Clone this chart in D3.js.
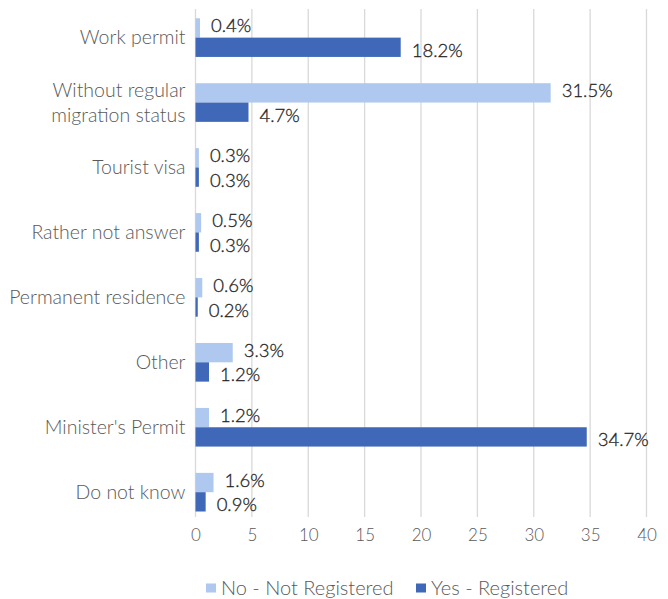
<!DOCTYPE html>
<html>
<head>
<meta charset="utf-8">
<script src="https://cdn.jsdelivr.net/npm/d3@7"></script>
<style>
  html, body { margin: 0; padding: 0; background: #fff; }
  svg { display: block; font-family: Lato, "Open Sans", sans-serif; }
</style>
</head>
<body>
<svg id="chart" width="668" height="599"></svg>
<script>
// Migration status by registration
const categories = [
  "Work permit",
  "Without regular|migration status",
  "Tourist visa",
  "Rather not answer",
  "Permanent residence",
  "Other",
  "Minister's Permit",
  "Do not know"
];
const notRegistered = [0.4, 31.5, 0.3, 0.5, 0.6, 3.3, 1.2, 1.6];
const registered    = [18.2, 4.7, 0.3, 0.3, 0.2, 1.2, 34.7, 0.9];
const seriesNames = ["No - Not Registered", "Yes - Registered"];
const seriesColors = ["#aec8ef", "#4068b8"];
const xTicks = [0, 5, 10, 15, 20, 25, 30, 35, 40];

const svg = d3.select("#chart");
const left = 195.5, right = 646.5;
const gridTop = 9, gridBottom = 517;

const x = d3.scaleLinear().domain([0, 40]).range([left, right]);
const y = d3.scaleBand().domain(categories).range([5.3, 524.5]).paddingInner(0.405).paddingOuter(0.2);
const sub = d3.scaleBand().domain([0, 1]).range([0, y.bandwidth()]);

// vertical gridlines
svg.append("g")
  .selectAll("line")
  .data(xTicks)
  .join("line")
  .attr("x1", d => x(d)).attr("x2", d => x(d))
  .attr("y1", gridTop).attr("y2", gridBottom)
  .attr("stroke", "#d9d9d9").attr("stroke-width", 1.3);

// x axis tick labels
const xAxis = d3.axisBottom(x).tickValues(xTicks).tickSize(0).tickPadding(0);
const gx = svg.append("g").attr("transform", `translate(0,${gridBottom + 12})`).call(xAxis);
gx.select(".domain").remove();
gx.selectAll("text")
  .attr("dy", "0.71em")
  .attr("font-size", 17)
  .attr("font-weight", 300)
  .attr("font-family", "Lato, sans-serif")
  .attr("fill", "#595959");

// bars
const rows = categories.map((c, i) => ({ c, vals: [notRegistered[i], registered[i]] }));
const groups = svg.append("g").selectAll("g")
  .data(rows)
  .join("g")
  .attr("transform", d => `translate(0,${y(d.c)})`);

groups.selectAll("rect")
  .data(d => d.vals.map((v, k) => ({ v, k })))
  .join("rect")
  .attr("x", x(0))
  .attr("y", d => sub(d.k))
  .attr("width", d => x(d.v) - x(0))
  .attr("height", sub.bandwidth())
  .attr("fill", d => seriesColors[d.k]);

// value labels
groups.selectAll("text.val")
  .data(d => d.vals.map((v, k) => ({ v, k })))
  .join("text")
  .attr("class", "val")
  .attr("x", d => x(d.v) + 11)
  .attr("y", d => sub(d.k) + sub.bandwidth() / 2 + (d.k === 0 ? -2 : 3))
  .attr("dy", "0.35em")
  .attr("font-size", 18.5)
  .attr("font-weight", 300)
  .attr("fill", "#262626")
  .attr("stroke", "#262626")
  .attr("stroke-width", 0.3)
  .text(d => d.v.toFixed(1) + "%");

// category labels
const cat = svg.append("g").selectAll("text")
  .data(categories)
  .join("text")
  .attr("x", left - 10)
  .attr("y", d => y(d) + y.bandwidth() / 2)
  .attr("text-anchor", "end")
  .attr("font-size", 19.5)
  .attr("font-weight", 300)
  .attr("fill", "#595959");
cat.each(function (d) {
  const lines = d.split("|");
  const t = d3.select(this);
  const lh = 25;
  lines.forEach((ln, i) => {
    t.append("tspan")
      .attr("x", left - 10)
      .attr("dy", i === 0 ? `${0.35 - (lines.length - 1) * 0.5 * lh / 19.5}em` : lh)
      .text(ln);
  });
});

// legend
const legend = svg.append("g").attr("transform", "translate(0,588)");
const legendX = [206, 416];
seriesNames.forEach((name, k) => {
  legend.append("rect")
    .attr("x", legendX[k]).attr("y", -4.5)
    .attr("width", 10).attr("height", 9)
    .attr("fill", seriesColors[k]);
  legend.append("text")
    .attr("x", legendX[k] + 15).attr("y", 0)
    .attr("dy", "0.35em")
    .attr("font-size", 20)
    .attr("font-weight", 300)
    .attr("fill", "#595959")
    .text(name);
});
</script>
</body>
</html>
